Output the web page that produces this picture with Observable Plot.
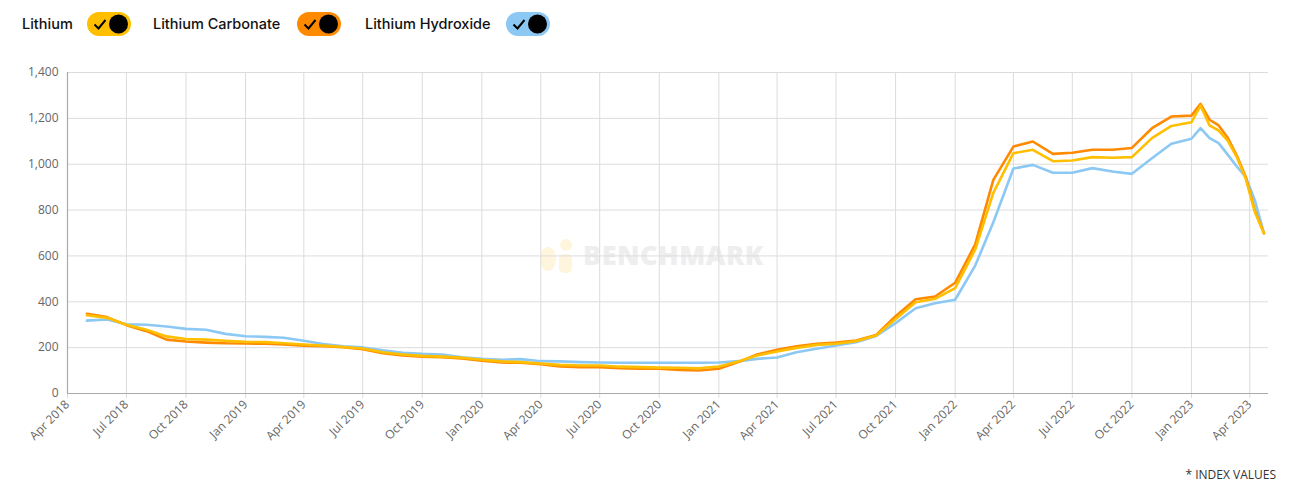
<!DOCTYPE html>
<html><head><meta charset="utf-8">
<script src="https://cdn.jsdelivr.net/npm/d3@7"></script>
<script src="https://cdn.jsdelivr.net/npm/@observablehq/plot@0.6"></script>
<style>
body{margin:0;background:#fff;font-family:"Open Sans",sans-serif;}
#wrap{position:relative;width:1298px;height:496px;overflow:hidden;}
.lg{position:absolute;top:14px;font-family:Inter,"Open Sans",sans-serif;font-size:14.5px;font-weight:500;color:#111;line-height:20px;}
.pill{position:absolute;top:12px;}
#chart{position:absolute;left:0;top:50px;z-index:2;}
#wm{position:absolute;left:537px;top:236px;z-index:1;display:flex;align-items:center;}
#wm span{font-family:"Open Sans",sans-serif;font-weight:800;font-size:27px;color:#eeeeee;letter-spacing:0.5px;margin-left:8px;}
#note{position:absolute;right:22px;top:466px;font-size:12px;color:#333;}
</style></head>
<body>
<div id="wrap">
  <div id="legend"></div>
  <div id="wm"><svg width="38" height="36"><ellipse cx="11" cy="22" rx="8" ry="12" fill="#fff5dc"/><circle cx="29" cy="8" r="6" fill="#fff5dc"/><rect x="22" y="17" width="13" height="19" rx="5" fill="#fff5dc"/></svg><span>BENCHMARK</span></div>
  <div id="chart"></div>
  <div id="note">* INDEX VALUES</div>
</div>
<script>
const seriesNames = ["Lithium", "Lithium Carbonate", "Lithium Hydroxide"];
const seriesColors = ["#FFBF00", "#FF8A00", "#8CC8F4"];

const dates = [
  "2018-05-01","2018-06-01","2018-07-01","2018-08-01","2018-09-01","2018-10-01","2018-11-01","2018-12-01",
  "2019-01-01","2019-02-01","2019-03-01","2019-04-01","2019-05-01","2019-06-01","2019-07-01","2019-08-01","2019-09-01","2019-10-01","2019-11-01","2019-12-01",
  "2020-01-01","2020-02-01","2020-03-01","2020-04-01","2020-05-01","2020-06-01","2020-07-01","2020-08-01","2020-09-01","2020-10-01","2020-11-01","2020-12-01",
  "2021-01-01","2021-02-01","2021-03-01","2021-04-01","2021-05-01","2021-06-01","2021-07-01","2021-08-01","2021-09-01","2021-10-01","2021-11-01","2021-12-01",
  "2022-01-01","2022-02-01","2022-03-01","2022-04-01","2022-05-01","2022-06-01","2022-07-01","2022-08-01","2022-09-01","2022-10-01","2022-11-01","2022-12-01",
  "2023-01-01","2023-01-15","2023-01-29","2023-02-12","2023-02-26","2023-03-12","2023-03-26","2023-04-09","2023-04-23"
];
const lithium = [
  341,330,300,278,249,238,235,230,
  225,224,219,214,209,203,196,180,170,164,161,156,
  147,140,137,131,125,122,122,117,115,113,112,110,
  118,141,166,183,199,212,217,228,253,325,398,413,
  460,628,875,1048,1063,1013,1016,1031,1028,1031,1114,1167,
  1183,1256,1169,1147,1103,1031,936,791,699
];
const carbonate = [
  348,333,298,272,235,227,222,219,
  218,217,214,209,206,202,193,176,166,161,158,153,
  143,135,134,128,118,115,115,110,108,108,103,100,
  108,138,170,191,206,217,222,231,255,337,411,423,
  483,650,932,1077,1099,1045,1050,1063,1063,1071,1157,1208,
  1212,1263,1194,1169,1115,1038,943,798,699
];
const hydroxide = [
  318,323,302,300,292,282,278,260,
  250,247,243,230,216,206,201,188,178,173,170,158,
  151,147,150,141,140,137,135,134,134,134,134,134,
  135,141,151,157,180,195,209,224,251,307,372,394,
  409,558,747,981,997,963,963,983,968,958,1026,1089,
  1111,1157,1114,1092,1042,990,943,842,699
];
const yTicks = [0, 200, 400, 600, 800, 1000, 1200, 1400];
const xDomain = ["2018-04-01", "2023-04-30"];

const parse = d3.utcParse("%Y-%m-%d");
const rows = (vals, name) => dates.map((d, i) => ({date: parse(d), value: vals[i], series: name}));
const dataLi = rows(lithium, seriesNames[0]);
const dataCa = rows(carbonate, seriesNames[1]);
const dataHy = rows(hydroxide, seriesNames[2]);
const x0 = parse(xDomain[0]), x1 = parse(xDomain[1]);

// legend
const legend = document.getElementById("legend");
const textLeft = [22, 153, 365];
const pillLeft = [87, 297, 506];
seriesNames.forEach((n, i) => {
  const t = document.createElement("div");
  t.className = "lg"; t.style.left = textLeft[i] + "px"; t.textContent = n;
  legend.appendChild(t);
  const p = document.createElement("div");
  p.className = "pill"; p.style.left = pillLeft[i] + "px";
  p.innerHTML = `<svg width="44" height="24"><rect x="0" y="0" width="44" height="24" rx="12" fill="${seriesColors[i]}"/><path d="M7.5 12.5 L11.5 16.5 L18.5 8" fill="none" stroke="#000" stroke-width="2"/><circle cx="31.5" cy="12" r="9.5" fill="#000"/></svg>`;
  legend.appendChild(p);
});

const color = {domain: seriesNames, range: seriesColors};
const chart = Plot.plot({
  width: 1298,
  height: 400,
  marginTop: 22,
  marginBottom: 57,
  marginLeft: 67,
  marginRight: 30,
  style: {fontFamily: "Open Sans, sans-serif", fontSize: "12px", color: "#666", background: "transparent"},
  x: {type: "utc", domain: [x0, x1], label: null},
  y: {domain: [0, 1400], label: null},
  color,
  marks: [
    Plot.gridY(yTicks, {stroke: "#dcdcdc", strokeOpacity: 1}),
    Plot.gridX({ticks: d3.utcMonth.every(3), stroke: "#dcdcdc", strokeOpacity: 1}),
    Plot.axisY(yTicks, {tickSize: 0, tickPadding: 9, tickFormat: d3.format(","), fill: "#666", label: null}),
    Plot.axisX({ticks: d3.utcMonth.every(3), tickFormat: d3.utcFormat("%b %Y"), tickRotate: -45, tickSize: 5, stroke: "#dcdcdc", tickPadding: 4, fill: "#666", label: null}),
    Plot.ruleY([0], {stroke: "#aaa", strokeWidth: 1.2}),
    Plot.ruleX([x0], {stroke: "#aaa", strokeWidth: 1.2}),
    Plot.line(dataHy, {x: "date", y: "value", stroke: "series", strokeWidth: 2.6}),
    Plot.line(dataCa, {x: "date", y: "value", stroke: "series", strokeWidth: 2.6}),
    Plot.line(dataLi, {x: "date", y: "value", stroke: "series", strokeWidth: 2.6})
  ]
});
document.getElementById("chart").appendChild(chart);
</script>
</body></html>
